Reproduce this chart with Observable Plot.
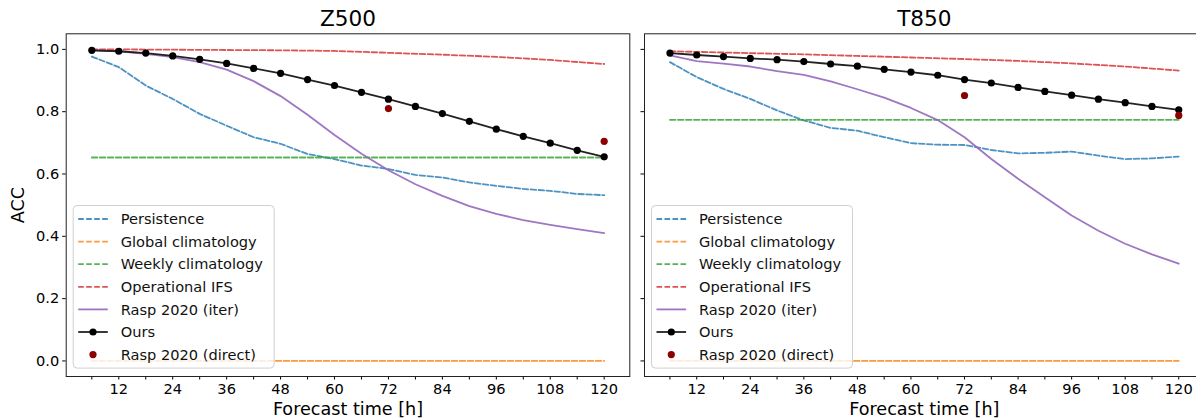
<!DOCTYPE html>
<html>
<head>
<meta charset="utf-8">
<script src="https://cdn.jsdelivr.net/npm/d3@7"></script>
<script src="https://cdn.jsdelivr.net/npm/@observablehq/plot@0.6"></script>
<style>
  html, body { margin: 0; padding: 0; background: #fff; overflow: hidden; }
  #wrap { position: relative; width: 1196px; height: 419px; overflow: hidden; background: #fff; }
  #wrap svg { position: absolute; top: 0; }
</style>
</head>
<body>
<div id="wrap"></div>
<script>
// ---------- data ----------
const hours = [6, 12, 18, 24, 30, 36, 42, 48, 54, 60, 66, 72, 78, 84, 90, 96, 102, 108, 114, 120];
const ifsHours = [6, 12, 24, 36, 48, 60, 72, 84, 96, 108, 120];
const climHours = [6, 120];
const directHours = [72, 120];
const yTicks = [0, 0.2, 0.4, 0.6, 0.8, 1.0];
const xLabelTicks = [12, 24, 36, 48, 60, 72, 84, 96, 108, 120];

const panelTitles = ["Z500", "T850"];

// Z500
const persistenceZ500 = [0.977, 0.943, 0.884, 0.841, 0.793, 0.755, 0.718, 0.697, 0.664, 0.648, 0.627, 0.616, 0.597, 0.589, 0.573, 0.562, 0.552, 0.546, 0.536, 0.532];
const globalClimZ500 = [0.0, 0.0];
const weeklyClimZ500 = [0.653, 0.653];
const ifsZ500 = [1.0, 1.0, 0.999, 0.998, 0.997, 0.995, 0.989, 0.983, 0.976, 0.966, 0.953];
const raspIterZ500 = [0.997, 0.994, 0.986, 0.975, 0.959, 0.935, 0.898, 0.85, 0.79, 0.725, 0.665, 0.612, 0.567, 0.53, 0.497, 0.472, 0.452, 0.437, 0.423, 0.41];
const oursZ500 = [0.997, 0.994, 0.988, 0.979, 0.968, 0.955, 0.939, 0.923, 0.903, 0.884, 0.862, 0.840, 0.817, 0.794, 0.769, 0.744, 0.721, 0.699, 0.676, 0.655];
const raspDirectZ500 = [0.810, 0.705];

// T850
const persistenceT850 = [0.959, 0.911, 0.873, 0.841, 0.804, 0.772, 0.748, 0.739, 0.718, 0.699, 0.694, 0.693, 0.677, 0.666, 0.668, 0.672, 0.659, 0.648, 0.650, 0.656];
const globalClimT850 = [0.0, 0.0];
const weeklyClimT850 = [0.774, 0.774];
const ifsT850 = [0.994, 0.992, 0.988, 0.984, 0.979, 0.974, 0.969, 0.963, 0.955, 0.945, 0.932];
const raspIterT850 = [0.981, 0.962, 0.954, 0.945, 0.930, 0.918, 0.897, 0.872, 0.845, 0.812, 0.773, 0.718, 0.648, 0.585, 0.525, 0.467, 0.418, 0.376, 0.342, 0.312];
const oursT850 = [0.988, 0.982, 0.977, 0.971, 0.967, 0.961, 0.953, 0.946, 0.936, 0.927, 0.917, 0.903, 0.892, 0.878, 0.865, 0.853, 0.840, 0.829, 0.817, 0.806];
const raspDirectT850 = [0.852, 0.788];

const legendLabels = ["Persistence", "Global climatology", "Weekly climatology", "Operational IFS", "Rasp 2020 (iter)", "Ours", "Rasp 2020 (direct)"];
const seriesColors = ["#1f77b4", "#ff7f0e", "#2ca02c", "#d62728", "#9467bd", "#000000", "#8b0000"];

// ---------- drawing ----------
const DASH = "5.6,2.4";
const LW = 1.8;
const pts = (xs, ys) => xs.map((h, i) => ({h, v: ys[i]}));

function drawPanel(title, s, opt) {
  const dashed = (xs, ys, color) => Plot.line(pts(xs, ys), {x: "h", y: "v", stroke: color, strokeWidth: LW, strokeDasharray: DASH, strokeOpacity: 0.8});
  const svg = Plot.plot({
    width: opt.width, height: 419,
    marginTop: 33.3, marginBottom: 43, marginLeft: opt.ml, marginRight: opt.mr,
    style: {fontFamily: "'DejaVu Sans', sans-serif", fontSize: "14.6px", color: "#000", background: "transparent", overflow: "visible"},
    x: {domain: [0.3, 125.7]},
    y: {domain: [-0.05, 1.05]},
    marks: [
      Plot.axisX({ticks: hours, tickSize: 3.5, tickPadding: 3.5, tickFormat: d => xLabelTicks.includes(d) ? String(d) : "", label: null}),
      Plot.axisY({ticks: yTicks, tickSize: 3.5, tickPadding: 3.5, tickFormat: opt.showY ? (d => d.toFixed(1)) : (() => ""), label: null}),
      dashed(hours, s.persistence, seriesColors[0]),
      dashed(climHours, s.globalClim, seriesColors[1]),
      dashed(climHours, s.weeklyClim, seriesColors[2]),
      dashed(ifsHours, s.ifs, seriesColors[3]),
      Plot.line(pts(hours, s.raspIter), {x: "h", y: "v", stroke: seriesColors[4], strokeWidth: LW, strokeOpacity: 0.9}),
      Plot.line(pts(hours, s.ours), {x: "h", y: "v", stroke: "#222", strokeWidth: LW}),
      Plot.dot(pts(hours, s.ours), {x: "h", y: "v", fill: seriesColors[5], r: 3.6}),
      Plot.dot(pts(directHours, s.direct), {x: "h", y: "v", fill: seriesColors[6], r: 3.6}),
      Plot.frame({stroke: "#222", strokeWidth: 1}),
      Plot.text([title], {text: d => d, frameAnchor: "top", lineAnchor: "middle", textAnchor: "middle", dy: -14.4, fontSize: 21.6}),
      Plot.text(["Forecast time [h]"], {text: d => d, frameAnchor: "bottom", lineAnchor: "middle", textAnchor: "middle", dy: 33, fontSize: 17.6}),
      opt.showY ? Plot.text(["ACC"], {text: d => d, frameAnchor: "left", lineAnchor: "middle", textAnchor: "middle", dx: -47.4, rotate: -90, fontSize: 17.6}) : null
    ]
  });
  svg.style.left = opt.left + "px";

  // legend (lower-left, inside axes)
  const g = d3.select(svg).append("g")
    .attr("font-family", "'DejaVu Sans', sans-serif").attr("font-size", 14.6).attr("text-anchor", "start");
  const bx = opt.ml + 7.5, by = 205.5, bw = 201, bh = 162.6;
  g.append("rect").attr("x", bx).attr("y", by).attr("width", bw).attr("height", bh)
    .attr("rx", 4).attr("fill", "#fff").attr("fill-opacity", 0.8).attr("stroke", "#d0d0d0").attr("stroke-width", 1);
  legendLabels.forEach((lab, i) => {
    const cy = by + 13.5 + i * 22.6;
    const x1 = bx + 5, x2 = bx + 34.6, xm = (x1 + x2) / 2;
    if (i < 4) {
      g.append("line").attr("x1", x1).attr("x2", x2).attr("y1", cy).attr("y2", cy)
        .attr("stroke", seriesColors[i]).attr("stroke-width", LW).attr("stroke-dasharray", DASH).attr("stroke-opacity", 0.8);
    } else if (i === 4) {
      g.append("line").attr("x1", x1).attr("x2", x2).attr("y1", cy).attr("y2", cy)
        .attr("stroke", seriesColors[4]).attr("stroke-width", LW).attr("stroke-opacity", 0.9);
    } else if (i === 5) {
      g.append("line").attr("x1", x1).attr("x2", x2).attr("y1", cy).attr("y2", cy)
        .attr("stroke", "#222").attr("stroke-width", LW);
      g.append("circle").attr("cx", xm).attr("cy", cy).attr("r", 3.6).attr("fill", "#000");
    } else {
      g.append("circle").attr("cx", xm).attr("cy", cy).attr("r", 3.6).attr("fill", seriesColors[6]);
    }
    g.append("text").attr("x", bx + 47.5).attr("y", cy).attr("dy", "0.36em").attr("fill", "#111")
      .attr("text-anchor", "start").text(lab);
  });
  document.getElementById("wrap").appendChild(svg);
}

drawPanel(panelTitles[0], {
  persistence: persistenceZ500, globalClim: globalClimZ500, weeklyClim: weeklyClimZ500,
  ifs: ifsZ500, raspIter: raspIterZ500, ours: oursZ500, direct: raspDirectZ500
}, {width: 636, ml: 65.7, mr: 6.7, left: 0, showY: true});

drawPanel(panelTitles[1], {
  persistence: persistenceT850, globalClim: globalClimT850, weeklyClim: weeklyClimT850,
  ifs: ifsT850, raspIter: raspIterT850, ours: oursT850, direct: raspDirectT850
}, {width: 568, ml: 8, mr: 0.3, left: 636, showY: false});
</script>
</body>
</html>
